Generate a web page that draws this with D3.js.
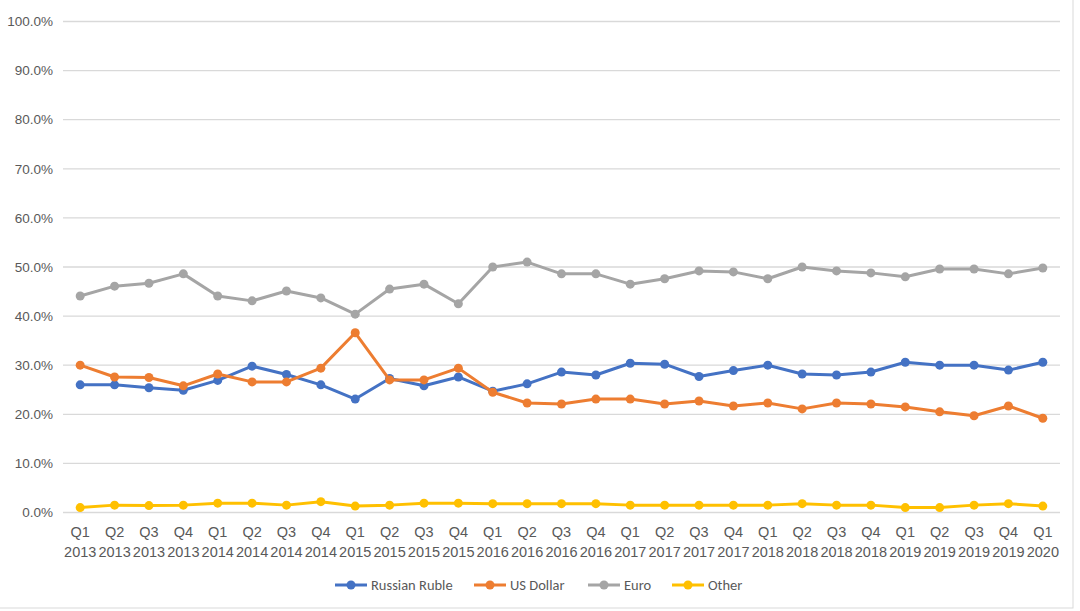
<!DOCTYPE html>
<html><head><meta charset="utf-8">
<script src="https://cdn.jsdelivr.net/npm/d3@7"></script>
<style>
html,body{margin:0;padding:0;background:#fff;}
svg{display:block;font-family:Calibri,Carlito,Lato,"Open Sans",sans-serif;}
</style></head>
<body><svg id="c" width="1080" height="611"></svg>
<script>
const quarters = ["Q1","Q2","Q3","Q4","Q1","Q2","Q3","Q4","Q1","Q2","Q3","Q4","Q1","Q2","Q3","Q4","Q1","Q2","Q3","Q4","Q1","Q2","Q3","Q4","Q1","Q2","Q3","Q4","Q1"];
const years = ["2013","2013","2013","2013","2014","2014","2014","2014","2015","2015","2015","2015","2016","2016","2016","2016","2017","2017","2017","2017","2018","2018","2018","2018","2019","2019","2019","2019","2020"];
const yTicks = [0,10,20,30,40,50,60,70,80,90,100];
const seriesNames = ["Russian Ruble","US Dollar","Euro","Other"];
const rubleValues = [25.9,25.9,25.3,24.8,26.8,29.7,28.0,25.9,23.0,27.2,25.7,27.5,24.6,26.1,28.5,27.9,30.3,30.1,27.6,28.8,29.9,28.1,27.9,28.5,30.5,29.9,29.9,28.9,30.5];
const usdValues = [29.9,27.5,27.4,25.7,28.1,26.5,26.5,29.3,36.5,26.9,26.9,29.3,24.4,22.2,22.0,23.0,23.0,22.0,22.6,21.6,22.2,21.0,22.2,22.0,21.4,20.4,19.6,21.6,19.1];
const euroValues = [44.0,46.0,46.6,48.5,44.0,43.0,45.0,43.6,40.3,45.4,46.4,42.4,49.9,50.9,48.5,48.5,46.4,47.5,49.1,48.9,47.5,49.9,49.1,48.7,47.9,49.5,49.5,48.5,49.7];
const otherValues = [0.9,1.4,1.3,1.4,1.8,1.8,1.4,2.1,1.2,1.4,1.8,1.8,1.7,1.7,1.7,1.7,1.4,1.4,1.4,1.4,1.4,1.7,1.4,1.4,0.9,0.9,1.4,1.7,1.2];
const colors = ["#4472C4","#ED7D31","#A5A5A5","#FFC000"];

const svg = d3.select("#c");
const mLeft = 63, mRight = 1060, mTop = 21, mBottom = 512;
const idx = d3.range(quarters.length);
const x = d3.scaleBand().domain(idx).range([mLeft, mRight]).padding(0);
const cx = i => x(i) + x.bandwidth()/2;
const y = d3.scaleLinear().domain([0,100]).range([mBottom, mTop]);

// chart border
svg.append("rect").attr("x",-1).attr("y",-1).attr("width",1074).attr("height",609)
  .attr("fill","none").attr("stroke","#d9d9d9").attr("stroke-width",1);

// gridlines
const yAxis = d3.axisLeft(y).tickValues(yTicks).tickSize(-(mRight-mLeft)).tickFormat(d => d3.format(".1f")(d) + "%");
const gy = svg.append("g").attr("transform",`translate(${mLeft},0)`).call(yAxis);
gy.select(".domain").remove();
gy.selectAll(".tick line").attr("stroke","#d9d9d9").attr("stroke-width",1.3);
gy.selectAll(".tick text").attr("x",-10).attr("fill","#595959").attr("font-size","13.5px").attr("dy","0.35em");

// x labels
const xAxis = d3.axisBottom(x).tickSize(0).tickFormat("");
const gx = svg.append("g").attr("transform",`translate(0,${mBottom})`).call(xAxis);
gx.select(".domain").remove();
gx.selectAll(".tick").each(function(i){
  const t = d3.select(this).append("text").attr("fill","#595959").attr("font-size","14.5px").attr("text-anchor","middle");
  t.append("tspan").attr("x",0).attr("y",25).text(quarters[i]);
  t.append("tspan").attr("x",0).attr("y",45).text(years[i]);
});

const allSeries = [rubleValues, usdValues, euroValues, otherValues];
const line = d3.line().x((d,i)=>cx(i)).y(d=>y(d));
allSeries.forEach((vals, s) => {
  const g = svg.append("g");
  g.append("path").datum(vals).attr("d", line).attr("fill","none")
    .attr("stroke", colors[s]).attr("stroke-width", 3).attr("stroke-linejoin","round");
  g.selectAll("circle").data(vals).join("circle")
    .attr("cx",(d,i)=>cx(i)).attr("cy",d=>y(d)).attr("r",4.5).attr("fill",colors[s]);
});

// legend
const legendX = [335, 474, 588, 672];
const lg = svg.append("g").attr("transform","translate(0,585)");
seriesNames.forEach((n, s) => {
  const gi = lg.append("g").attr("transform",`translate(${legendX[s]},0)`);
  gi.append("line").attr("x1",0).attr("x2",32).attr("y1",0).attr("y2",0).attr("stroke",colors[s]).attr("stroke-width",3);
  gi.append("circle").attr("cx",16).attr("cy",0).attr("r",4.5).attr("fill",colors[s]);
  gi.append("text").attr("x",36).attr("y",0).attr("dy","0.35em").attr("fill","#595959").attr("font-size","14.5px").text(n);
});
</script></body></html>
